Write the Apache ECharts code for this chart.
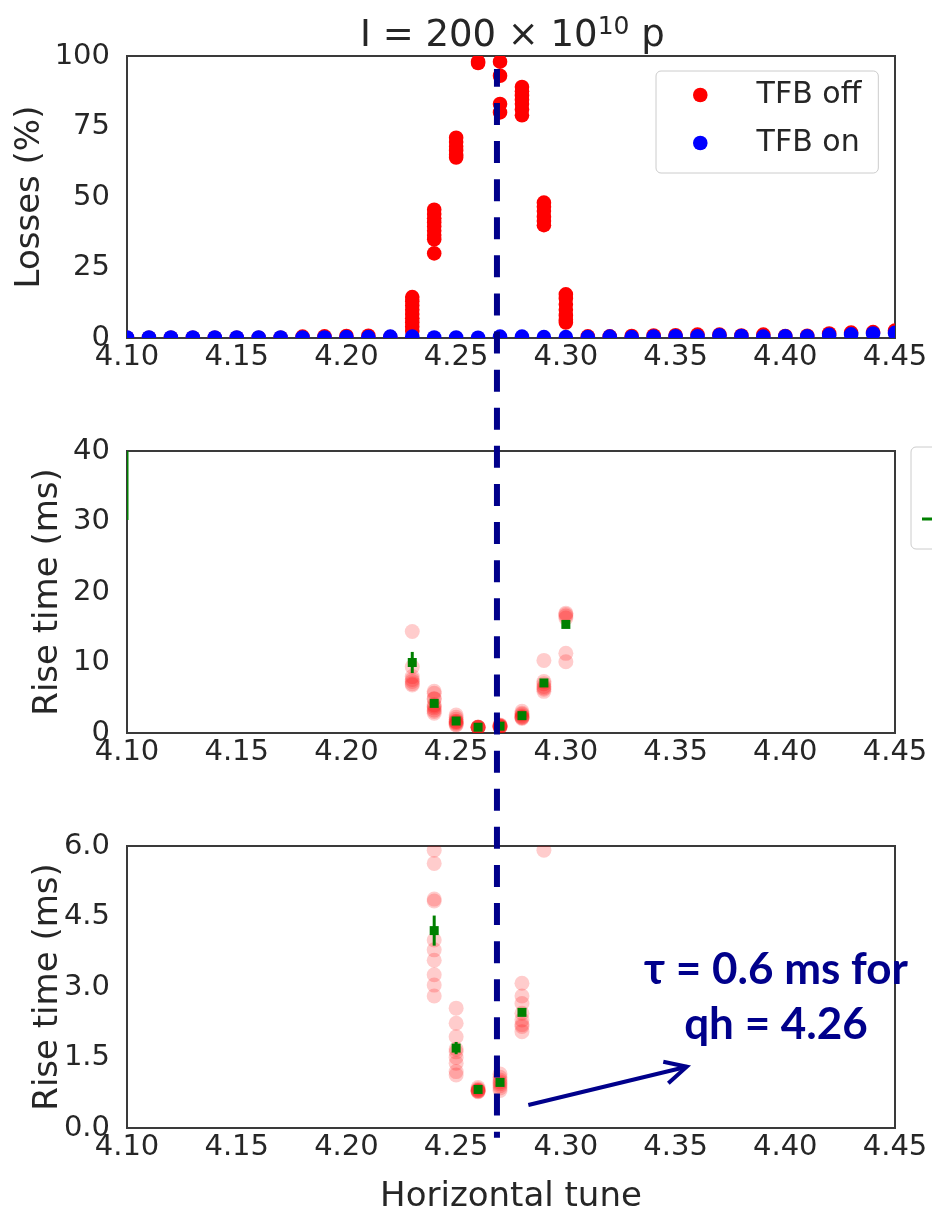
<!DOCTYPE html>
<html><head><meta charset="utf-8">
<script src="https://cdn.jsdelivr.net/npm/echarts@6/dist/echarts.min.js"></script>
<style>html,body{margin:0;padding:0;background:#fff}#c{width:932px;height:1218px}</style>
</head><body><div id="c"></div>
<script>
// ---- data ----
const tunes = [4.10,4.11,4.12,4.13,4.14,4.15,4.16,4.17,4.18,4.19,4.20,4.21,4.22,4.23,4.24,4.25,4.26,4.27,4.28,4.29,4.30,4.31,4.32,4.33,4.34,4.35,4.36,4.37,4.38,4.39,4.40,4.41,4.42,4.43,4.44,4.45];
const lossOn = [0.2,0.2,0.2,0.2,0.2,0.2,0.2,0.2,0.2,0.2,0.3,0.3,0.5,0.5,0.2,0.2,0.1,0.5,0.5,0.3,0.3,0.3,0.5,0.3,0.5,0.6,0.6,1.0,0.7,0.5,0.6,0.6,1.1,1.3,1.6,1.8];

const lossOffTune = [4.10,4.11,4.12,4.13,4.14,4.15,4.16,4.17,4.18,4.19,4.20,4.21,4.22,
  4.23,4.23,4.23,4.23,4.23,4.23,4.23,4.23,4.23,
  4.24,4.24,4.24,4.24,4.24,4.24,4.24,4.24,4.24,
  4.25,4.25,4.25,4.25,4.25,4.25,
  4.26,4.26,
  4.27,4.27,4.27,4.27,
  4.28,4.28,4.28,4.28,4.28,4.28,4.28,
  4.29,4.29,4.29,4.29,4.29,4.29,
  4.30,4.30,4.30,4.30,4.30,4.30,4.30,
  4.31,4.32,4.33,4.34,4.35,4.36,4.37,4.38,4.39,4.40,4.41,4.42,4.43,4.44,4.45];
const lossOff = [0.1,0.1,0.1,0.1,0.1,0.1,0.1,0.1,0.5,0.6,0.7,0.8,0.3,
  14.5,13,11.5,10,8.5,7,5.5,4,2.5,
  45.5,44,42.5,41,39.5,38,36.5,35,30,
  71,69.5,68,66.5,65,64,
  98,97.5,
  98,93,83,80,
  89,87.5,86,84.5,83,81,79,
  48,46.5,45,43,41.5,40,
  15.5,14,12,10,8,6.5,5.5,
  0.6,0.6,0.7,0.9,1.0,1.2,1.2,0.9,1.2,0.7,0.8,1.6,1.9,2.1,2.6];

const riseTune = [4.23,4.23,4.23,4.23,4.23,4.23,4.23,
  4.24,4.24,4.24,4.24,4.24,4.24,4.24,4.24,4.24,4.24,
  4.25,4.25,4.25,4.25,4.25,4.25,4.25,4.25,4.25,
  4.26,4.26,4.26,4.26,4.26,4.26,4.26,
  4.27,4.27,4.27,4.27,4.27,4.27,4.27,4.27,
  4.28,4.28,4.28,4.28,4.28,4.28,4.28,4.28,
  4.29,4.29,4.29,4.29,4.29,4.29,4.29,
  4.30,4.30,4.30,4.30,4.30,4.30];
const riseTime = [14.4,9.4,8.0,7.6,7.3,7.0,6.8,
  5.91,5.63,4.87,4.83,4.0,3.79,3.57,3.26,3.04,2.81,
  2.55,2.23,1.94,1.68,1.62,1.5,1.38,1.2,1.13,
  0.86,0.83,0.81,0.80,0.79,0.78,0.77,
  1.15,1.08,1.02,0.98,0.94,0.90,0.85,0.80,
  3.08,2.81,2.65,2.44,2.30,2.20,2.16,2.05,
  10.3,7.3,7.0,6.6,6.4,6.2,5.91,
  17.0,16.8,16.6,16.3,11.3,10.1];

const meanTune = [4.10,4.23,4.24,4.25,4.26,4.27,4.28,4.29,4.30];
const meanRise = [52,10.0,4.2,1.70,0.82,0.97,2.46,7.1,15.4];
const meanErr  = [21.8,1.5,0.32,0.13,0.03,0.05,0.05,0.3,0.5];

const cursorTune = 4.2686;           // dashed marker
const cursorSpan = [22.62, -0.21];   // in bottom-panel units (runs through all panels)
const arrowShaft = [[4.2829,0.489],[4.3551,1.304]];
const arrowHead  = [[4.3444,1.411],[4.3551,1.304],[4.3467,0.951]];
const noteLines = ['τ = 0.6 ms for', 'qh = 4.26'];

// ---- build ----
const FONT = 'DejaVu Sans';
const TXT = '#262626';
const NAVY = '#00008B';
const zip = (a, b) => a.map((v, i) => [v, b[i]]);
const zip3 = (a, b, c) => a.map((v, i) => [v, b[i], c[i]]);

function circles(r) {
  return function (params, api) {
    const p = api.coord([api.value(0), api.value(1)]);
    return { type: 'circle', shape: { cx: p[0], cy: p[1], r: r }, style: { fill: api.visual('color') } };
  };
}
function errbars(params, api) {
  const x = api.value(0), m = api.value(1), e = api.value(2);
  const t = api.coord([x, m + e]), b = api.coord([x, m - e]), c = api.coord([x, m]);
  return { type: 'group', children: [
    { type: 'line', shape: { x1: t[0], y1: t[1], x2: b[0], y2: b[1] }, style: { stroke: 'green', lineWidth: 3 } },
    { type: 'rect', shape: { x: c[0] - 4.5, y: c[1] - 4.5, width: 9, height: 9 }, style: { fill: 'green' } }
  ]};
}

const grids = [56, 451, 846].map(top => ({
  left: 127, top: top, width: 768, height: 282, show: true,
  borderColor: '#3a3a3a', borderWidth: 2, backgroundColor: '#fff'
}));

const xAxes = [0, 1, 2].map(i => ({
  type: 'value', gridIndex: i, min: 4.10, max: 4.45, interval: 0.05,
  axisLine: { show: false }, axisTick: { show: false }, splitLine: { show: false },
  axisLabel: { fontSize: 29, fontFamily: FONT, color: TXT, margin: 5, formatter: v => v.toFixed(2) },
  name: i === 2 ? 'Horizontal tune' : '', nameLocation: 'middle', nameGap: 52, nameMoveOverlap: false,
  nameTextStyle: { fontSize: 34, fontFamily: FONT, color: TXT }
}));
const yDefs = [
  { max: 100, interval: 25, name: 'Losses (%)', gap: 80, fmt: v => String(v) },
  { max: 40, interval: 10, name: 'Rise time (ms)', gap: 62, fmt: v => String(v) },
  { max: 6, interval: 1.5, name: 'Rise time (ms)', gap: 62, fmt: v => v.toFixed(1) }
];
const yAxes = yDefs.map((d, i) => ({
  type: 'value', gridIndex: i, min: 0, max: d.max, interval: d.interval,
  axisLine: { show: false }, axisTick: { show: false }, splitLine: { show: false },
  axisLabel: { fontSize: 29, fontFamily: FONT, color: TXT, margin: 17, formatter: d.fmt },
  name: d.name, nameLocation: 'middle', nameGap: d.gap, nameMoveOverlap: false,
  nameTextStyle: { fontSize: 34, fontFamily: FONT, color: TXT }
}));

const pale = 'rgba(255,0,0,0.2)';
const series = [
  { name: 'TFB off', type: 'custom', xAxisIndex: 0, yAxisIndex: 0, clip: true, itemStyle: { color: '#ff0000' },
    renderItem: circles(7.3), data: zip(lossOffTune, lossOff) },
  { name: 'TFB on', type: 'custom', xAxisIndex: 0, yAxisIndex: 0, clip: true, itemStyle: { color: '#0000ff' },
    renderItem: circles(7.3), data: zip(tunes, lossOn) },
  { name: 'Measurements', type: 'custom', xAxisIndex: 1, yAxisIndex: 1, clip: true, itemStyle: { color: pale },
    renderItem: circles(7.5), data: zip(riseTune, riseTime) },
  { name: 'Average', type: 'custom', xAxisIndex: 1, yAxisIndex: 1, clip: true, itemStyle: { color: 'green' },
    renderItem: errbars, data: zip3(meanTune, meanRise, meanErr) },
  { name: 'Measurements', type: 'custom', xAxisIndex: 2, yAxisIndex: 2, clip: true, itemStyle: { color: pale },
    renderItem: circles(7.5), data: zip(riseTune, riseTime) },
  { name: 'Average', type: 'custom', xAxisIndex: 2, yAxisIndex: 2, clip: true, itemStyle: { color: 'green' },
    renderItem: errbars, data: zip3(meanTune, meanRise, meanErr) },
  { name: 'cursor', type: 'line', xAxisIndex: 2, yAxisIndex: 2, clip: false, silent: true, symbol: 'none', z: 10,
    lineStyle: { color: NAVY, width: 6, type: [22, 16.1] },
    data: cursorSpan.map(y => [cursorTune, y]) },
  { name: 'arrow', type: 'line', xAxisIndex: 2, yAxisIndex: 2, clip: false, silent: true, symbol: 'none', z: 10,
    lineStyle: { color: NAVY, width: 4 }, data: arrowShaft },
  { name: 'arrowhead', type: 'line', xAxisIndex: 2, yAxisIndex: 2, clip: false, silent: true, symbol: 'none', z: 10,
    lineStyle: { color: NAVY, width: 4, join: 'miter' }, data: arrowHead }
];

const legendBase = {
  orient: 'vertical', itemGap: 18, selectedMode: false,
  borderColor: '#cccccc', borderWidth: 1, borderRadius: 5, backgroundColor: '#ffffff',
  textStyle: { fontSize: 30, fontFamily: FONT, color: TXT, lineHeight: 30 }
};

const option = {
  animation: false,
  backgroundColor: '#ffffff',
  title: {
    text: 'I = 200 × 10{sup|10} p', left: 360, top: 15, padding: 0,
    textStyle: { fontSize: 37, fontWeight: 'normal', fontFamily: FONT, color: TXT, lineHeight: 42,
      rich: { sup: { fontSize: 25, fontFamily: FONT, color: TXT, verticalAlign: 'top', lineHeight: 22 } } }
  },
  legend: [
    Object.assign({}, legendBase, {
      left: 656, top: 71, padding: [9, 17, 15, 37], itemWidth: 14.6, itemHeight: 14.6,
      data: [{ name: 'TFB off', icon: 'circle' }, { name: 'TFB on', icon: 'circle' }],
      textStyle: Object.assign({}, legendBase.textStyle, { padding: [0, 0, 0, 44] })
    }),
    Object.assign({}, legendBase, {
      left: 911, top: 447, padding: [9, 17, 15, 11], itemWidth: 48, itemHeight: 3,
      data: [{ name: 'Measurements', icon: 'circle' }, { name: 'Average', icon: 'rect' }]
    })
  ],
  grid: grids, xAxis: xAxes, yAxis: yAxes, series: series,
  graphic: noteLines.map((t, i) => ({
    type: 'text', x: 776, y: 970 + i * 55, z: 20,
    style: { text: t, align: 'center', verticalAlign: 'middle', fill: NAVY,
      font: 'bold 44px Lato, "Liberation Sans", sans-serif' }
  }))
};

const chart = echarts.init(document.getElementById('c'), null, { renderer: 'canvas' });
chart.setOption(option);
</script>
</body></html>
